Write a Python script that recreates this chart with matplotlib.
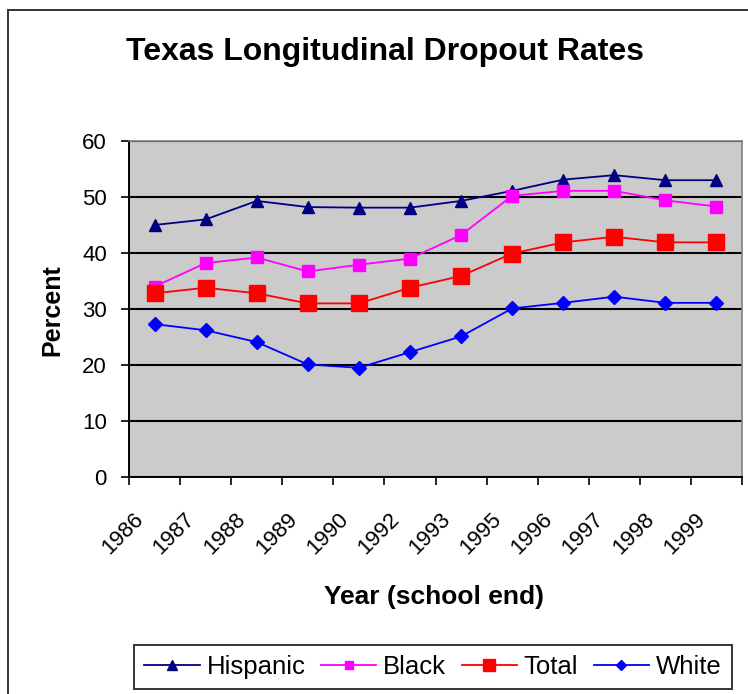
import numpy as np
import matplotlib
matplotlib.use("Agg")
import matplotlib.pyplot as plt
from matplotlib.patches import Rectangle
from matplotlib.transforms import ScaledTranslation

plt.rcParams["font.family"] = ["Liberation Sans", "DejaVu Sans"]

# =========================
# DATA
# =========================

years = ["1986", "1987", "1988", "1989", "1990", "1992",
         "1993", "1995", "1996", "1997", "1998", "1999"]

hispanic = [45, 46, 49.3, 48.2, 48.1, 48.1, 49.3, 51.1, 53.1, 53.9, 53.0, 53.0]
black = [34, 38.2, 39.2, 36.7, 37.9, 39.0, 43.2, 50.2, 51.1, 51.1, 49.4, 48.3]
total = [32.8, 33.8, 32.8, 31.0, 31.0, 33.8, 35.9, 39.9, 41.9, 42.9, 41.9, 41.9]
white = [27.3, 26.2, 24.1, 20.1, 19.5, 22.3, 25.1, 30.1, 31.1, 32.2, 31.1, 31.1]

# =========================
# PLOT
# =========================

fig = plt.figure(figsize=(7.48, 6.94), dpi=100)
fig.patch.set_facecolor("white")

# outer chart frame
fig.patches.append(Rectangle((8 / 748, -0.1), 1.1, 1 - 10 / 694 + 0.1,
                             transform=fig.transFigure, fill=False,
                             edgecolor="#333333", lw=1.4))

ax = fig.add_axes([129 / 748, 1 - 477 / 694, 613 / 748, 336 / 694])
ax.set_facecolor("#cbcbcb")

x = np.arange(len(years))

ax.plot(x, hispanic, color="#000080", lw=1.3, marker="^", ms=9, label="Hispanic")
ax.plot(x, black, color="#ff00ff", lw=1.3, marker="s", ms=8, label="Black")
ax.plot(x, total, color="#ff0000", lw=1.3, marker="s", ms=12, label="Total")
ax.plot(x, white, color="#0000ff", lw=1.3, marker="D", ms=7, label="White")

ax.set_xlim(-0.5, len(years) - 0.5)
ax.set_ylim(0, 60)
ax.set_yticks(range(0, 61, 10))
ax.yaxis.grid(True, color="black", lw=1.5)
ax.set_axisbelow(True)

# ticks at category boundaries, labels at centres
ax.set_xticks(np.arange(-0.5, len(years), 1.0))
ax.set_xticklabels([])
ax.set_xticks(x, minor=True)
ax.set_xticklabels(years, minor=True, rotation=45, ha="right", va="center",
                   rotation_mode="anchor", fontsize=16)
ax.tick_params(axis="x", which="minor", length=0, pad=28)
ax.tick_params(axis="x", which="major", length=6, width=1.2, direction="out")
ax.tick_params(axis="y", length=6, width=1.2, direction="out", labelsize=16, pad=10)

shift = ScaledTranslation(-14 / 100, 0, fig.dpi_scale_trans)
for lbl in ax.get_xticklabels(minor=True):
    lbl.set_transform(lbl.get_transform() + shift)

for side in ["top", "right"]:
    ax.spines[side].set_color("#808080")
    ax.spines[side].set_linewidth(1.2)
for side in ["left", "bottom"]:
    ax.spines[side].set_color("black")
    ax.spines[side].set_linewidth(1.4)

fig.text(385 / 748, 1 - 52 / 694, "Texas Longitudinal Dropout Rates",
         ha="center", va="center", fontsize=23, fontweight="bold")
fig.text(52 / 748, 1 - 310 / 694, "Percent", rotation=90,
         ha="center", va="center", fontsize=18, fontweight="bold")
fig.text(434 / 748, 1 - 597 / 694, "Year (school end)",
         ha="center", va="center", fontsize=19, fontweight="bold")

leg = fig.legend(loc="center", bbox_to_anchor=(433 / 748, 1 - 667 / 694),
                 ncol=4, fontsize=18.5, frameon=True, fancybox=False,
                 edgecolor="black", handlelength=2.15, handletextpad=0.27,
                 columnspacing=0.6, borderpad=0.4, markerscale=0.75)
leg.get_frame().set_linewidth(1.4)

fig.savefig("out.png", dpi=100)
